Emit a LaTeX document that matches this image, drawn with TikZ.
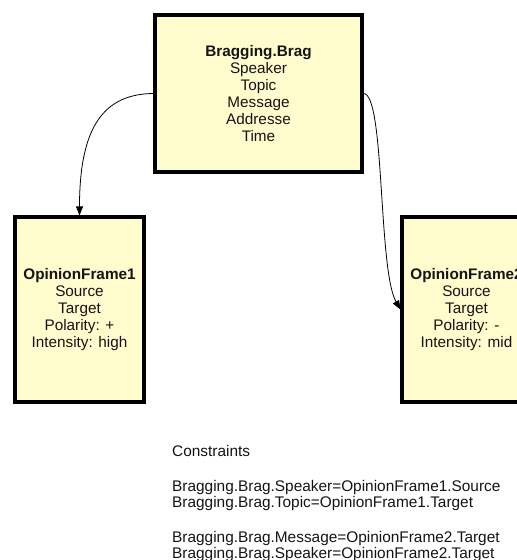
\documentclass[tikz,border=0pt]{standalone}
\usepackage{fontspec}
\setmainfont{Liberation Sans}
\usetikzlibrary{arrows.meta}
\definecolor{framefill}{RGB}{255,252,205}
\definecolor{textdark}{RGB}{20,20,20}
\begin{document}
\begin{tikzpicture}[x=1pt,y=1pt,
  frame/.style={draw=black, line width=3.2pt, fill=framefill, text=textdark,
    align=center, inner sep=0pt, font=\fontsize{15.3}{17}\selectfont},
  link/.style={line width=0.8pt, -{Triangle[length=9pt,width=7pt]}}]
\useasboundingbox (0,0) rectangle (517,-560);
\begin{scope}
\clip (0,0) rectangle (517,-560);
% frame boxes
\node[frame, minimum width=207pt, minimum height=157pt] (brag) at (258.5,-93.5)
  {\textbf{Bragging.Brag}\\Speaker\\Topic\\Message\\Addresse\\Time};
\node[frame, minimum width=129pt, minimum height=185pt] (of1) at (79.5,-309.5)
  {\textbf{OpinionFrame1}\\Source\\Target\\Polarity: +\\Intensity: high};
\node[frame, minimum width=129pt, minimum height=185pt] (of2) at (466.5,-309.5)
  {\textbf{OpinionFrame2}\\Source\\Target\\Polarity: -\\Intensity: mid};
% frame links
\draw[link] (brag.west) .. controls (105,-94) and (79.5,-125) .. (of1.north);
\draw[link] (brag.east) .. controls (385,-94) and (378,-270) .. (of2.west);
% constraint list
\node[anchor=north west, align=left, inner sep=0pt, text=textdark,
  font=\fontsize{15.4}{16}\selectfont] (cons) at (172,-445)
  {Constraints\\[19pt]
   Bragging.Brag.Speaker=OpinionFrame1.Source\\
   Bragging.Brag.Topic=OpinionFrame1.Target\\[19pt]
   Bragging.Brag.Message=OpinionFrame2.Target\\
   Bragging.Brag.Speaker=OpinionFrame2.Target};
\end{scope}
\end{tikzpicture}
\end{document}
